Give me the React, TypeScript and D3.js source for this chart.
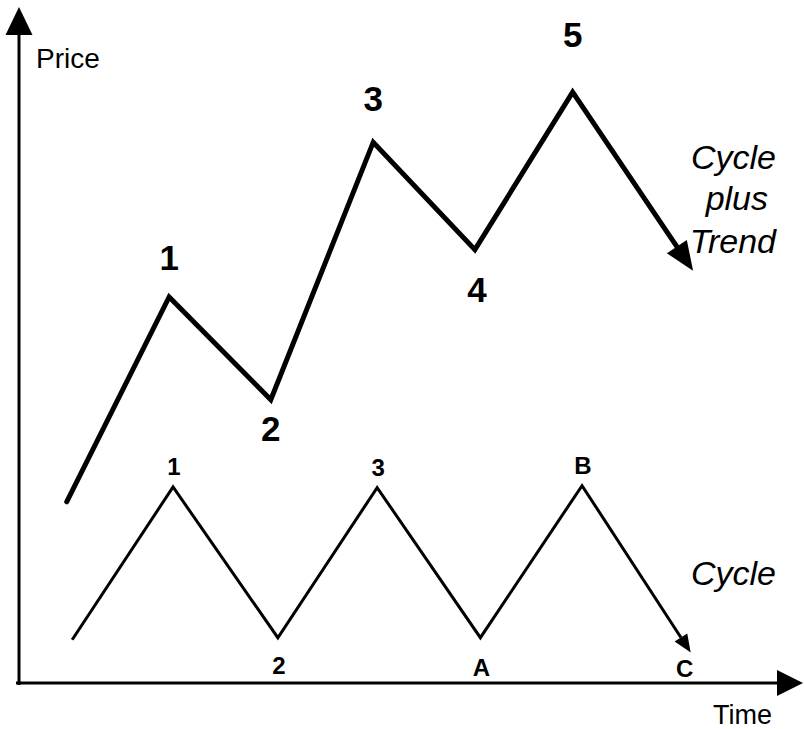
import React from "react";
import * as d3 from "d3";

// Abstract chart units: time 0..100 along x, price 0..100 along y
const trendTime = [6.1, 19.2, 32.2, 45.3, 58.3, 70.8, 86.2];
const trendPrice = [26.8, 57.1, 41.9, 80.0, 64.1, 87.4, 61.0];
const trendLabels = ["", "1", "2", "3", "4", "5", ""];

const cycleTime = [6.8, 19.7, 33.1, 45.8, 59.0, 72.0, 85.9];
const cyclePrice = [6.4, 29.0, 6.7, 28.9, 6.7, 29.2, 4.5];
const cycleLabels = ["", "1", "2", "3", "A", "B", "C"];

const W = 804;
const H = 729;

function arrowHead(tip: [number, number], from: [number, number], len: number, half: number) {
  const dx = tip[0] - from[0];
  const dy = tip[1] - from[1];
  const d = Math.hypot(dx, dy);
  const ux = dx / d, uy = dy / d;
  const bx = tip[0] - ux * len, by = tip[1] - uy * len;
  const px = -uy, py = ux;
  const pts = [tip, [bx + px * half, by + py * half], [bx - px * half, by - py * half]];
  return { base: [bx, by] as [number, number], points: pts.map((p) => p.join(",")).join(" ") };
}

export default function App() {
  const x = d3.scaleLinear().domain([0, 100]).range([19, 801]);
  const y = d3.scaleLinear().domain([0, 100]).range([683, 7]);
  const line = d3.line<[number, number]>().x((d) => d[0]).y((d) => d[1]);

  const trendPts: [number, number][] = trendTime.map((t, i) => [x(t), y(trendPrice[i])]);
  const cyclePts: [number, number][] = cycleTime.map((t, i) => [x(t), y(cyclePrice[i])]);

  const tA = arrowHead(trendPts[trendPts.length - 1], trendPts[trendPts.length - 2], 29, 12);
  const cA = arrowHead(cyclePts[cyclePts.length - 1], cyclePts[cyclePts.length - 2], 18, 7.5);

  const trendDraw = [...trendPts.slice(0, -1), tA.base];
  const cycleDraw = [...cyclePts.slice(0, -1), cA.base];

  const xAxisY = y(0);
  const yAxisX = x(0);
  const xA = arrowHead([803, xAxisY], [yAxisX, xAxisY], 26, 13);
  const yA = arrowHead([yAxisX, 7], [yAxisX, xAxisY], 28, 13.5);

  // label offsets: above peaks, below troughs
  const bigOff = [0, -27, 41, -31, 52, -45, 0];
  const smallOff = [0, -12, 36, -12, 38, -12, 24];

  const font = "'Liberation Sans', Arial, sans-serif";

  return (
    <svg width={W} height={H} style={{ position: "absolute", left: 0, top: 0, background: "#fff" }}>
      <rect width={W} height={H} fill="#fff" />
      {/* axes */}
      <line x1={yAxisX - 3} y1={xAxisY} x2={xA.base[0] + 1} y2={xAxisY} stroke="#000" strokeWidth={3} />
      <polygon points={xA.points} fill="#000" />
      <line x1={yAxisX} y1={xAxisY + 2} x2={yAxisX} y2={yA.base[1] - 1} stroke="#000" strokeWidth={3} />
      <polygon points={yA.points} fill="#000" />
      <text x={36} y={68} fontFamily={font} fontSize={28}>Price</text>
      <text x={713} y={724} fontFamily={font} fontSize={27}>Time</text>

      {/* trend + cycle */}
      <path d={line(trendDraw) || ""} fill="none" stroke="#000" strokeWidth={5} strokeLinejoin="miter" strokeLinecap="round" />
      <polygon points={tA.points} fill="#000" />
      <path d={line(cycleDraw) || ""} fill="none" stroke="#000" strokeWidth={3} strokeLinejoin="miter" />
      <polygon points={cA.points} fill="#000" />

      {trendLabels.map((l, i) =>
        l ? (
          <text key={"t" + i} x={trendPts[i][0] + (i === 4 ? 2 : 0)} y={trendPts[i][1] + bigOff[i]} textAnchor="middle"
            fontFamily={font} fontWeight="bold" fontSize={35}>{l}</text>
        ) : null
      )}
      {cycleLabels.map((l, i) =>
        l ? (
          <text key={"c" + i} x={cyclePts[i][0] + (i === 6 ? -6 : 1)} y={cyclePts[i][1] + smallOff[i]} textAnchor="middle"
            fontFamily={font} fontWeight="bold" fontSize={24}>{l}</text>
        ) : null
      )}

      <text x={776} y={169} textAnchor="end" fontFamily={font} fontStyle="italic" fontSize={34}>Cycle</text>
      <text x={768} y={210} textAnchor="end" fontFamily={font} fontStyle="italic" fontSize={34}>plus</text>
      <text x={776} y={253} textAnchor="end" fontFamily={font} fontStyle="italic" fontSize={34}>Trend</text>
      <text x={776} y={585} textAnchor="end" fontFamily={font} fontStyle="italic" fontSize={34}>Cycle</text>
    </svg>
  );
}
